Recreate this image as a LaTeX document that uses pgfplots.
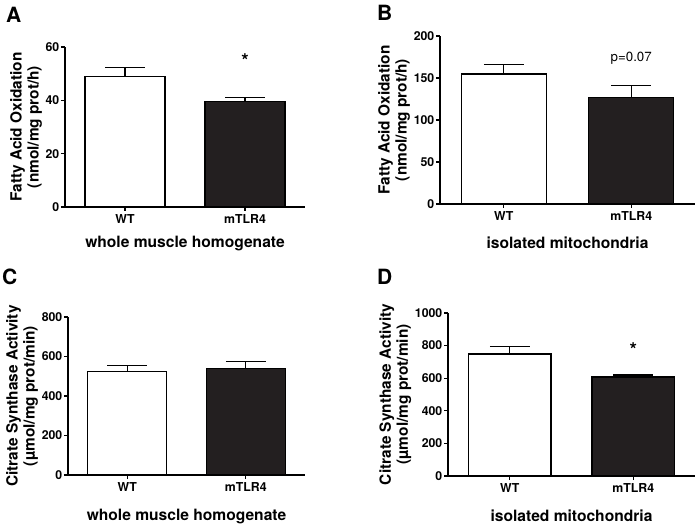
\documentclass[border=0pt]{standalone}
\usepackage{pgfplots}
\pgfplotsset{compat=1.18}
\usepackage{fontspec}
\setmainfont{TeX Gyre Heros}
\definecolor{barblack}{HTML}{231F20}
\pgfplotsset{
 panel/.style={
  scale only axis,
  xmin=-0.5, xmax=1.5, ymin=0,
  axis x line*=bottom, axis y line*=left,
  axis line style={line width=1.3pt},
  xtick={0,1}, xticklabels={WT,mTLR4},
  tick style={line width=1.3pt, black},
  tick align=outside, major tick length=4pt,
  tick label style={font=\bfseries\fontsize{12.3}{14}\selectfont},
  yticklabel style={inner xsep=1.5pt},
  /pgf/number format/assume math mode=true,
  /pgf/number format/1000 sep={},
  ylabel style={align=center, font=\bfseries\fontsize{15.4}{17}\selectfont, inner sep=2pt},
  xlabel style={font=\bfseries\fontsize{15.6}{17}\selectfont},
  clip=false,
 },
 gbar/.style={ybar, bar width=0.667, bar shift=0pt, draw=black, line width=1.3pt,
   error bars/y dir=plus, error bars/y explicit,
   error bars/error bar style={line width=1.3pt, black},
   error bars/error mark options={rotate=90, line width=1.3pt, mark size=20pt, black}},
}
\begin{document}
\begin{tikzpicture}
\path[use as bounding box] (0,0) rectangle (695pt,530pt);
% Panel A
\begin{axis}[panel, at={(65pt,323pt)}, anchor=south west, width=240pt, height=160pt,
  ymax=60, ytick={0,20,40,60},
  ylabel={Fatty Acid Oxidation\\(nmol/mg prot/h)},
  xlabel={whole muscle homogenate}, xlabel style={yshift=-6pt}]
\addplot[gbar, fill=white] coordinates {(0,48.9) +- (0,3.5)};
\addplot[gbar, fill=barblack] coordinates {(1,39.5) +- (0,1.6)};
\node[font=\bfseries\fontsize{19}{19}\selectfont, inner sep=0pt, anchor=north] at (axis cs:1,57.5) {*};
\end{axis}
% Panel B
\begin{axis}[panel, at={(440pt,326pt)}, anchor=south west, width=255pt, height=168pt,
  ymax=200, ytick={0,50,100,150,200},
  ylabel={Fatty Acid Oxidation\\(nmol/mg prot/h)},
  xlabel={isolated mitochondria}, xlabel style={yshift=-10pt}]
\addplot[gbar, fill=white] coordinates {(0,154.8) +- (0,11)};
\addplot[gbar, fill=barblack] coordinates {(1,126.6) +- (0,14.2)};
\node[font=\fontsize{13.3}{14}\selectfont, inner sep=0pt, anchor=base] at (axis cs:1,170) {p=0.07};
\end{axis}
% Panel C
\begin{axis}[panel, at={(68pt,55pt)}, anchor=south west, width=237pt, height=158pt,
  ymax=800, ytick={0,200,400,600,800},
  ylabel={Citrate Synthase Activity\\(µmol/mg prot/min)},
  xlabel={whole muscle homogenate}, xlabel style={yshift=-11pt}]
\addplot[gbar, fill=white] coordinates {(0,523) +- (0,30)};
\addplot[gbar, fill=barblack] coordinates {(1,540) +- (0,34)};
\end{axis}
% Panel D
\begin{axis}[panel, at={(448pt,54pt)}, anchor=south west, width=247pt, height=163pt,
  ymax=1000, ytick={0,200,400,600,800,1000},
  ylabel={Citrate Synthase Activity\\(µmol/mg prot/min)},
  xlabel={isolated mitochondria}, xlabel style={yshift=-11pt}]
\addplot[gbar, fill=white] coordinates {(0,748) +- (0,47)};
\addplot[gbar, fill=barblack] coordinates {(1,607) +- (0,12)};
\node[font=\bfseries\fontsize{19}{19}\selectfont, inner sep=0pt, anchor=north] at (axis cs:1,822) {*};
\end{axis}
% panel letters
\node[font=\bfseries\fontsize{21}{21}\selectfont, anchor=base west, inner sep=0pt] at (6pt,507pt) {A};
\node[font=\bfseries\fontsize{21}{21}\selectfont, anchor=base west, inner sep=0pt] at (377pt,509pt) {B};
\node[font=\bfseries\fontsize{21}{21}\selectfont, anchor=base west, inner sep=0pt] at (2pt,245pt) {C};
\node[font=\bfseries\fontsize{21}{21}\selectfont, anchor=base west, inner sep=0pt] at (377pt,245pt) {D};
\end{tikzpicture}
\end{document}
